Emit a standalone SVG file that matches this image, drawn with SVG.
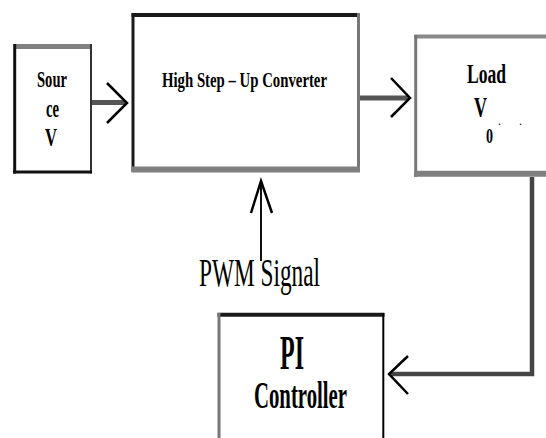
<svg xmlns="http://www.w3.org/2000/svg" width="546" height="438" viewBox="0 0 546 438">
<style>
.t{font-family:"Liberation Serif","Times New Roman",serif;font-weight:bold;fill:#000}
.r{font-family:"Liberation Serif","Times New Roman",serif;font-weight:normal;fill:#000}
.head{fill:none;stroke:#000;stroke-width:2.5;stroke-linejoin:miter}
.shaft{stroke:#555;stroke-width:5;fill:none}
</style>
<rect width="546" height="438" fill="#fff"/>
<g id="source">
<line x1="14" y1="46.5" x2="91.5" y2="46.5" stroke="#808080" stroke-width="5"/>
<line x1="14.7" y1="44" x2="14.7" y2="173.5" stroke="#111" stroke-width="3"/>
<line x1="91" y1="44" x2="91" y2="173.5" stroke="#333" stroke-width="2"/>
<line x1="13" y1="172" x2="92" y2="172" stroke="#111" stroke-width="3"/>
<text class="t" x="52" y="87" font-size="24" text-anchor="middle" textLength="30" lengthAdjust="spacingAndGlyphs">Sour</text>
<text class="t" x="52.5" y="117" font-size="26" text-anchor="middle" textLength="13" lengthAdjust="spacingAndGlyphs">ce</text>
<text class="t" x="51" y="146" font-size="26" text-anchor="middle" textLength="12" lengthAdjust="spacingAndGlyphs">V</text>
</g>
<g id="converter">
<line x1="131.5" y1="15" x2="360" y2="15" stroke="#1a1a1a" stroke-width="4"/>
<line x1="133" y1="13" x2="133" y2="172" stroke="#1a1a1a" stroke-width="3"/>
<line x1="358.5" y1="13" x2="358.5" y2="172" stroke="#777" stroke-width="3"/>
<line x1="131.5" y1="169.5" x2="360" y2="169.5" stroke="#808080" stroke-width="6"/>
<text class="t" x="244.5" y="87" font-size="21" text-anchor="middle" textLength="165" lengthAdjust="spacingAndGlyphs">High Step – Up Converter</text>
</g>
<g id="load">
<line x1="414" y1="36.5" x2="546" y2="36.5" stroke="#8a8a8a" stroke-width="4"/>
<line x1="415.7" y1="35" x2="415.7" y2="177" stroke="#777" stroke-width="3"/>
<line x1="414" y1="173.8" x2="546" y2="173.8" stroke="#808080" stroke-width="6"/>
<text class="t" x="486.5" y="83" font-size="28" text-anchor="middle" textLength="39" lengthAdjust="spacingAndGlyphs">Load</text>
<text class="t" x="474" y="117" font-size="30" textLength="13" lengthAdjust="spacingAndGlyphs">V</text>
<text class="r" x="498" y="125" font-size="12">.</text>
<text class="r" x="519" y="125" font-size="12">.</text>
<text class="t" x="486" y="143" font-size="20" textLength="7" lengthAdjust="spacingAndGlyphs">0</text>
</g>
<g id="pi">
<line x1="217.5" y1="314.7" x2="384.5" y2="314.7" stroke="#1a1a1a" stroke-width="4"/>
<line x1="219" y1="313" x2="219" y2="438" stroke="#777" stroke-width="3"/>
<line x1="383.3" y1="313" x2="383.3" y2="438" stroke="#000" stroke-width="2"/>
<text class="t" x="292" y="369" font-size="48" text-anchor="middle" textLength="24" lengthAdjust="spacingAndGlyphs">PI</text>
<text class="t" x="300.5" y="408" font-size="37" text-anchor="middle" textLength="93" lengthAdjust="spacingAndGlyphs">Controller</text>
</g>
<g id="pwm-label">
<text class="r" x="259.5" y="286" font-size="40" text-anchor="middle" textLength="121" lengthAdjust="spacingAndGlyphs">PWM Signal</text>
</g>
<g id="connectors">
<line class="shaft" x1="92" y1="102.5" x2="125" y2="102.5"/>
<polyline class="head" points="107,83 127,103 107,123"/>
<line class="shaft" x1="360" y1="98" x2="408" y2="98"/>
<polyline class="head" points="391,78 410,98 391,117"/>
<line x1="261" y1="182" x2="261" y2="261" stroke="#111" stroke-width="2"/>
<polyline class="head" points="251,213 261,181 272,213"/>
<polyline fill="none" stroke="#444" stroke-width="4.5" points="532,177 532,374 390,374"/>
<polyline class="head" points="408,356 389,374 408,394"/>
</g>
</svg>
